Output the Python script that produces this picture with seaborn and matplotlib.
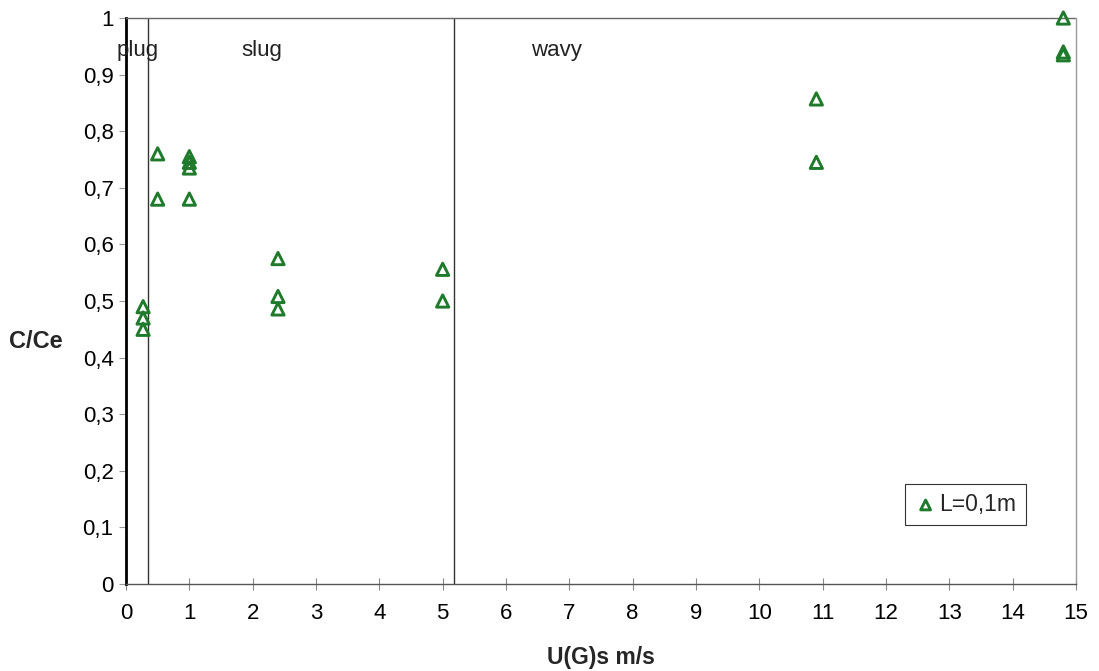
import matplotlib
matplotlib.use("Agg")
import matplotlib.pyplot as plt
import seaborn as sns
import pandas as pd
from matplotlib.ticker import FuncFormatter

# Data
ug = [0.27, 0.27, 0.27, 0.5, 0.5, 1.0, 1.0, 1.0, 1.0, 2.4, 2.4, 2.4, 5.0, 5.0, 10.9, 10.9, 14.8, 14.8, 14.8]
c_ce = [0.49, 0.47, 0.45, 0.76, 0.68, 0.755, 0.745, 0.735, 0.68, 0.575, 0.508, 0.486, 0.556, 0.500, 0.857, 0.745, 1.0, 0.94, 0.935]
series_label = "L=0,1m"
regime_bounds = [0.34, 5.18]
regime_names = ["plug", "slug", "wavy"]
regime_text_x = [0.19, 2.15, 6.8]
x_ticks = list(range(0, 16))
y_ticks = [0, 0.1, 0.2, 0.3, 0.4, 0.5, 0.6, 0.7, 0.8, 0.9, 1.0]

df = pd.DataFrame({"UGs": ug, "C/Ce": c_ce})

sns.set_theme(style="white")
plt.rcParams["font.family"] = ["Liberation Sans", "DejaVu Sans"]

fig = plt.figure(figsize=(10.99, 6.71), dpi=100)
ax = fig.add_axes([126 / 1099, 1 - 584 / 671, 950 / 1099, 566 / 671])

green = "#1f7a2c"
sns.scatterplot(data=df, x="UGs", y="C/Ce", color=green, label=series_label,
                marker="^", s=78, facecolor="none", edgecolor=green, linewidth=2.1,
                ax=ax, zorder=3, clip_on=False)

ax.set_xlim(0, 15)
ax.set_ylim(0, 1)
ax.set_xticks(x_ticks)
ax.set_yticks(y_ticks)
fmt = FuncFormatter(lambda v, p: ("%g" % v).replace(".", ","))
ax.yaxis.set_major_formatter(fmt)
ax.xaxis.set_major_formatter(fmt)
ax.tick_params(axis="x", direction="inout", length=8, width=0.8, colors="#888888",
               labelcolor="black", labelsize=16, pad=10)
ax.tick_params(axis="y", direction="out", length=5, width=0.8, colors="#999999",
               labelcolor="black", labelsize=16, pad=4)
ax.tick_params(left=True, bottom=True)

for b in regime_bounds:
    ax.axvline(b, color="#333333", lw=1.0, zorder=2)

for name, tx in zip(regime_names, regime_text_x):
    ax.text(tx, 0.943, name, ha="center", va="center", fontsize=16, color="#222222")

ax.spines["left"].set_color("black")
ax.spines["left"].set_linewidth(2.0)
ax.spines["bottom"].set_color("#555555")
ax.spines["bottom"].set_linewidth(1.0)
ax.spines["top"].set_color("#666666")
ax.spines["top"].set_linewidth(1.0)
ax.spines["top"].set_linestyle((0, (2, 1)))
ax.spines["right"].set_color("#999999")
ax.spines["right"].set_linewidth(1.0)

ax.set_xlabel("U(G)s m/s", fontsize=16.5, fontweight="bold", va="top")
ax.xaxis.set_label_coords(0.5, -0.109)
ax.set_ylabel("C/Ce", fontsize=17, fontweight="bold", rotation=0, va="center", ha="center")
ax.yaxis.set_label_coords(-0.0947, 0.429)

leg = ax.legend(loc="lower left", bbox_to_anchor=(0.82, 0.104), frameon=True,
                fontsize=16.5, handletextpad=0.1, borderpad=0.4, handlelength=1.0,
                borderaxespad=0, markerscale=0.8, fancybox=False)
leg.get_frame().set_edgecolor("black")
leg.get_frame().set_linewidth(0.8)

fig.savefig("out.png", dpi=100)
